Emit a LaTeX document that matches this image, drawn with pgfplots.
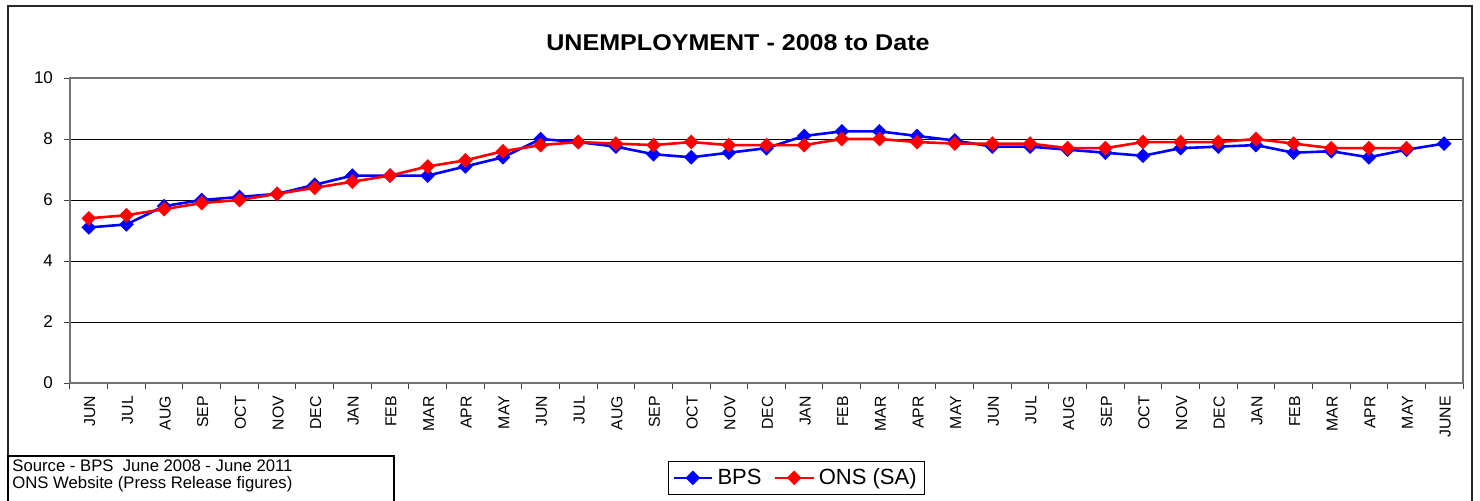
\documentclass[border=0pt]{standalone}
\usepackage{fontspec}
\setmainfont{Liberation Sans}
\usepackage{graphicx}
\usepackage{pgfplots}
\pgfplotsset{compat=1.18}
\usepackage{pgfplotstable}

\pgfplotstableread{
x y
0 5.1
1 5.2
2 5.8
3 6.0
4 6.1
5 6.2
6 6.5
7 6.8
8 6.8
9 6.8
10 7.1
11 7.4
12 8.0
13 7.9
14 7.75
15 7.5
16 7.4
17 7.55
18 7.7
19 8.1
20 8.25
21 8.25
22 8.1
23 7.95
24 7.75
25 7.75
26 7.65
27 7.55
28 7.45
29 7.7
30 7.75
31 7.8
32 7.55
33 7.6
34 7.4
35 7.65
36 7.85
}\bps

\pgfplotstableread{
x y
0 5.4
1 5.5
2 5.7
3 5.9
4 6.0
5 6.2
6 6.4
7 6.6
8 6.8
9 7.1
10 7.3
11 7.6
12 7.8
13 7.9
14 7.85
15 7.8
16 7.9
17 7.8
18 7.8
19 7.8
20 8.0
21 8.0
22 7.9
23 7.85
24 7.85
25 7.85
26 7.7
27 7.7
28 7.9
29 7.9
30 7.9
31 8.0
32 7.85
33 7.7
34 7.7
35 7.7
}\ons

\begin{document}
\begin{tikzpicture}
\useasboundingbox (0,0) rectangle (740pt,250pt);
\draw[line width=0.9pt, black!85] (4pt,-2pt) -- (4pt,247.2pt) -- (736pt,247.2pt) -- (736pt,-2pt);
\node[anchor=base] at (369pt,224.6pt) {\scalebox{1.1}[1]{\bfseries\fontsize{11.4}{13}\selectfont UNEMPLOYMENT - 2008 to Date}};
\draw[line width=0.6pt, black] (4pt,22pt) rectangle (197pt,-2pt);
\node[anchor=base west, inner sep=0pt, font=\fontsize{8.35}{9.6}\selectfont] at (6pt,14.15pt) {Source - BPS\ \ June 2008 - June 2011};
\node[anchor=base west, inner sep=0pt, font=\fontsize{8.35}{9.6}\selectfont] at (6pt,6pt) {ONS Website (Press Release figures)};
\begin{axis}[
  at={(35pt,58.5pt)}, anchor=south west,
  scale only axis, width=696.5pt, height=152.5pt,
  xmin=-0.5, xmax=36.5, ymin=0, ymax=10,
  xtick={-0.5,0.5,1.5,2.5,3.5,4.5,5.5,6.5,7.5,8.5,9.5,10.5,11.5,12.5,13.5,14.5,15.5,16.5,17.5,18.5,19.5,20.5,21.5,22.5,23.5,24.5,25.5,26.5,27.5,28.5,29.5,30.5,31.5,32.5,33.5,34.5,35.5,36.5},
  x tick label as interval,
  xticklabels={JUN,JUL,AUG,SEP,OCT,NOV,DEC,JAN,FEB,MAR,APR,MAY,JUN,JUL,AUG,SEP,OCT,NOV,DEC,JAN,FEB,MAR,APR,MAY,JUN,JUL,AUG,SEP,OCT,NOV,DEC,JAN,FEB,MAR,APR,MAY,JUNE},
  ytick={0,2,4,6,8,10},
  tick pos=left,
  ymajorgrids, major grid style={black, line width=0.5pt},
  tick align=outside, major tick length=3pt,
  axis line style={black!55, line width=0.6pt},
  tick style={black!75, line width=0.5pt},
  xticklabel style={rotate=90, anchor=east, font=\fontsize{7.9}{9}\selectfont, yshift=-0.5pt},
  yticklabel style={font=\fontsize{8.5}{10}\selectfont, xshift=-2pt},
  /pgf/number format/assume math mode=true,
  legend columns=2,
  legend style={at={(0.5215,-0.311)}, anchor=center, draw=black, line width=0.5pt,
    font=\fontsize{11}{13}\selectfont, inner xsep=2pt, inner ysep=1.5pt,
    /tikz/every even column/.append style={column sep=4pt}},
  legend image code/.code={\draw[mark repeat=2,mark phase=2] plot coordinates {(0cm,0cm)(0.34cm,0cm)(0.68cm,0cm)};},
]
\addplot[color={rgb,255:red,0;green,0;blue,255}, line width=1.3pt, mark=square*, mark size=1.95pt, mark options={rotate=45, solid}] table[x=x,y=y] {\bps};
\addlegendentry{BPS}
\addplot[color={rgb,255:red,255;green,0;blue,0}, line width=1.3pt, mark=square*, mark size=1.95pt, mark options={rotate=45, solid}] table[x=x,y=y] {\ons};
\addlegendentry{ONS (SA)}
\end{axis}
\end{tikzpicture}
\end{document}
